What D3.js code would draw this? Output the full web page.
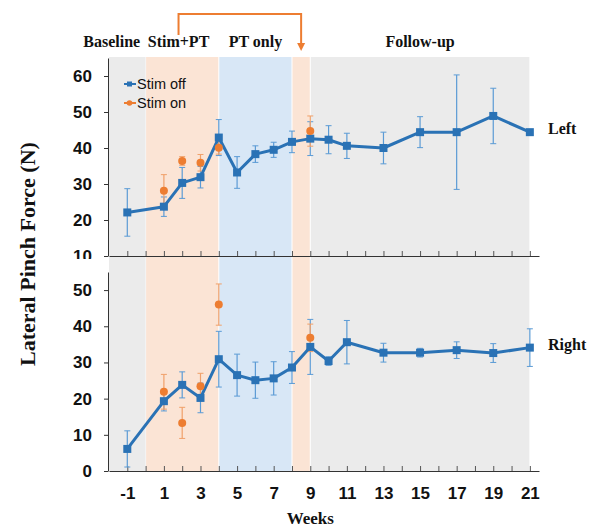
<!DOCTYPE html>
<html>
<head>
<meta charset="utf-8">
<script src="https://cdn.jsdelivr.net/npm/d3@7"></script>
<style>
  body { margin: 0; background: #fff; }
  svg { display: block; }
</style>
</head>
<body>
<script>
// weeks where stim off was measured
const weeks = [-1, 1, 2, 3, 4, 5, 6, 7, 8, 9, 10, 11, 13, 15, 17, 19, 21];
const leftOff = [22.1, 23.7, 30.3, 31.9, 42.9, 33.2, 38.3, 39.5, 41.7, 42.6, 42.3, 40.6, 40.0, 44.4, 44.4, 48.9, 44.4];
const leftOffErr = [6.6, 2.7, 4.3, 3.0, 5.0, 4.4, 2.3, 2.1, 3.0, 4.7, 3.9, 3.5, 4.4, 4.3, 15.9, 7.7, 0.4];
const rightOff = [6.1, 19.3, 23.8, 20.2, 30.9, 26.5, 25.1, 25.6, 28.6, 34.3, 30.4, 35.6, 32.7, 32.7, 33.4, 32.6, 34.1];
const rightOffErr = [5.0, 2.7, 3.6, 4.1, 7.7, 5.8, 5.0, 4.6, 4.4, 7.6, 1.2, 6.0, 2.6, 1.2, 2.3, 2.6, 5.2];

// weeks with stim on
const stimWeeks = [1, 2, 3, 4, 9];
const leftOn = [28.1, 36.4, 35.9, 40.1, 44.7];
const leftOnErr = [4.5, 1.2, 2.3, 1.8, 4.2];
const rightOn = [21.9, 13.3, 23.4, 46.0, 36.8];
const rightOnErr = [4.8, 4.3, 3.6, 5.7, 3.8];

// study phases (week ranges)
const phaseStart = [-2, 0, 4, 8, 9];
const phaseEnd = [0, 4, 8, 9, 21];
const phaseNames = ['Baseline', 'Stim+PT', 'PT only', 'Follow-up'];
const phaseLabelWeek = [-1.85, 1.8, 6, 15];

const xTickLabels = [-1, 1, 3, 5, 7, 9, 11, 13, 15, 17, 19, 21];
const leftTicks = [10, 20, 30, 40, 50, 60];
const rightTicks = [0, 10, 20, 30, 40, 50];

const width = 594, height = 527;
const blue = '#2a72b5', blueErr = '#5b9bd5', orange = '#ed7d31';
const phaseFill = ['#ebebeb', '#fbe4d5', '#d8e7f6', '#fbe4d5', '#ebebeb'];

const svg = d3.select('body').append('svg')
  .attr('width', width).attr('height', height);

const x = d3.scaleLinear().domain([-2, 21.5]).range([109, 539]);
const yL = d3.scaleLinear().domain([10, 65]).range([256, 58]);
const yR = d3.scaleLinear().domain([0, 55]).range([471, 272]);

// background shading
svg.append('g').selectAll('rect')
  .data(phaseStart)
  .join('rect')
  .attr('x', (d, i) => x(d) + (i ? 0.5 : 0))
  .attr('width', (d, i) => x(phaseEnd[i]) - x(d) - (i ? 1 : 0))
  .attr('y', 57)
  .attr('height', 471 - 57)
  .attr('fill', (d, i) => phaseFill[i]);

// axes
function drawPanel(y, ticks, showLabels) {
  const g = svg.append('g');
  g.append('g')
    .attr('transform', `translate(${x.range()[0] - 1},0)`)
    .call(d3.axisLeft(y).tickValues(ticks).tickSize(4).tickSizeOuter(0).tickPadding(12))
    .call(a => a.select('.domain').attr('stroke', '#333'))
    .call(a => a.selectAll('.tick line').attr('stroke', '#333'))
    .call(a => a.selectAll('.tick text')
      .attr('font-family', 'Liberation Sans, Arial, sans-serif')
      .attr('font-weight', 'bold').attr('font-size', 17).attr('fill', '#111'));
  g.append('g')
    .attr('transform', `translate(0,${y.range()[0]})`)
    .call(d3.axisBottom(x).tickValues(d3.range(-1, 22)).tickSize(-5).tickSizeOuter(0)
      .tickFormat(d => showLabels && xTickLabels.includes(d) ? d : ''))
    .call(a => a.select('.domain').attr('stroke', '#333'))
    .call(a => a.selectAll('.tick line').attr('stroke', '#555'))
    .call(a => a.selectAll('.tick text')
      .attr('y', 16)
      .attr('font-family', 'Liberation Sans, Arial, sans-serif')
      .attr('font-weight', 'bold').attr('font-size', 17).attr('fill', '#111'));
}
drawPanel(yL, leftTicks, false);
// hide lower half of the top "10" label like the source
svg.append('rect').attr('x', 55).attr('y', 259).attr('width', 50).attr('height', 10).attr('fill', '#fff');
drawPanel(yR, rightTicks, true);

function errorBars(g, xs, ys, es, y, color) {
  const cap = 3;
  xs.forEach((w, i) => {
    const cx = x(w), top = y(ys[i] + es[i]), bot = y(ys[i] - es[i]);
    g.append('line').attr('x1', cx).attr('x2', cx).attr('y1', top).attr('y2', bot)
      .attr('stroke', color).attr('stroke-width', 1.2);
    [top, bot].forEach(v => g.append('line')
      .attr('x1', cx - cap).attr('x2', cx + cap).attr('y1', v).attr('y2', v)
      .attr('stroke', color).attr('stroke-width', 1));
  });
}

function drawSeries(y, off, offErr, on, onErr) {
  const g = svg.append('g');
  errorBars(g, weeks, off, offErr, y, blueErr);
  errorBars(g, stimWeeks, on, onErr, y, '#f0a06a');
  const line = d3.line().x((d, i) => x(weeks[i])).y(d => y(d));
  g.append('path').datum(off)
    .attr('d', line).attr('fill', 'none')
    .attr('stroke', blue).attr('stroke-width', 3).attr('stroke-linejoin', 'round');
  g.selectAll('rect.sq').data(off).join('rect')
    .attr('x', (d, i) => x(weeks[i]) - 4).attr('y', d => y(d) - 4)
    .attr('width', 8).attr('height', 8).attr('fill', blue);
  g.selectAll('circle').data(on).join('circle')
    .attr('cx', (d, i) => x(stimWeeks[i])).attr('cy', d => y(d))
    .attr('r', 4).attr('fill', orange);
}
drawSeries(yL, leftOff, leftOffErr, leftOn, leftOnErr);
drawSeries(yR, rightOff, rightOffErr, rightOn, rightOnErr);

// serif labels
const serif = 'Liberation Serif, Times New Roman, serif';
svg.selectAll('text.phase').data(phaseNames).join('text')
  .attr('class', 'phase')
  .attr('x', (d, i) => x(phaseLabelWeek[i])).attr('y', 47)
  .attr('text-anchor', 'middle')
  .attr('font-family', serif).attr('font-weight', 'bold').attr('font-size', 16)
  .attr('fill', '#111').text(d => d);

svg.append('text').attr('x', 548).attr('y', 134)
  .attr('font-family', serif).attr('font-weight', 'bold').attr('font-size', 16)
  .attr('fill', '#111').text('Left');
svg.append('text').attr('x', 548).attr('y', 350)
  .attr('font-family', serif).attr('font-weight', 'bold').attr('font-size', 16)
  .attr('fill', '#111').text('Right');

svg.append('text').attr('x', x(9)).attr('y', 524)
  .attr('text-anchor', 'middle')
  .attr('font-family', serif).attr('font-weight', 'bold').attr('font-size', 17)
  .attr('fill', '#111').text('Weeks');

svg.append('text')
  .attr('transform', 'translate(35,254) rotate(-90)')
  .attr('text-anchor', 'middle')
  .attr('font-family', serif).attr('font-weight', 'bold').attr('font-size', 22)
  .attr('fill', '#111').text('Lateral Pinch Force (N)');

// bracket arrow from Stim+PT to week 8.5
const bx1 = x(1.8), bx2 = x(8.5);
svg.append('path')
  .attr('d', `M${bx1},35 V14 H${bx2} V45`)
  .attr('fill', 'none').attr('stroke', orange).attr('stroke-width', 2);
svg.append('path')
  .attr('d', `M${bx2 - 4},43 L${bx2 + 4},43 L${bx2},51 Z`)
  .attr('fill', orange);

// legend
const leg = svg.append('g').attr('font-family', 'Liberation Sans, Arial, sans-serif').attr('font-size', 14.5);
[['Stim off', blue, 84], ['Stim on', orange, 103]].forEach(([name, c, ly], i) => {
  leg.append('line').attr('x1', 124).attr('x2', 136).attr('y1', ly).attr('y2', ly)
    .attr('stroke', c).attr('stroke-width', 2);
  if (i === 0) {
    leg.append('rect').attr('x', 127).attr('y', ly - 2.5).attr('width', 5).attr('height', 5).attr('fill', c);
  } else {
    leg.append('circle').attr('cx', 129.5).attr('cy', ly).attr('r', 2.8).attr('fill', c);
  }
  leg.append('text').attr('x', 137).attr('y', ly + 5).attr('fill', '#111').text(name);
});
</script>
</body>
</html>
